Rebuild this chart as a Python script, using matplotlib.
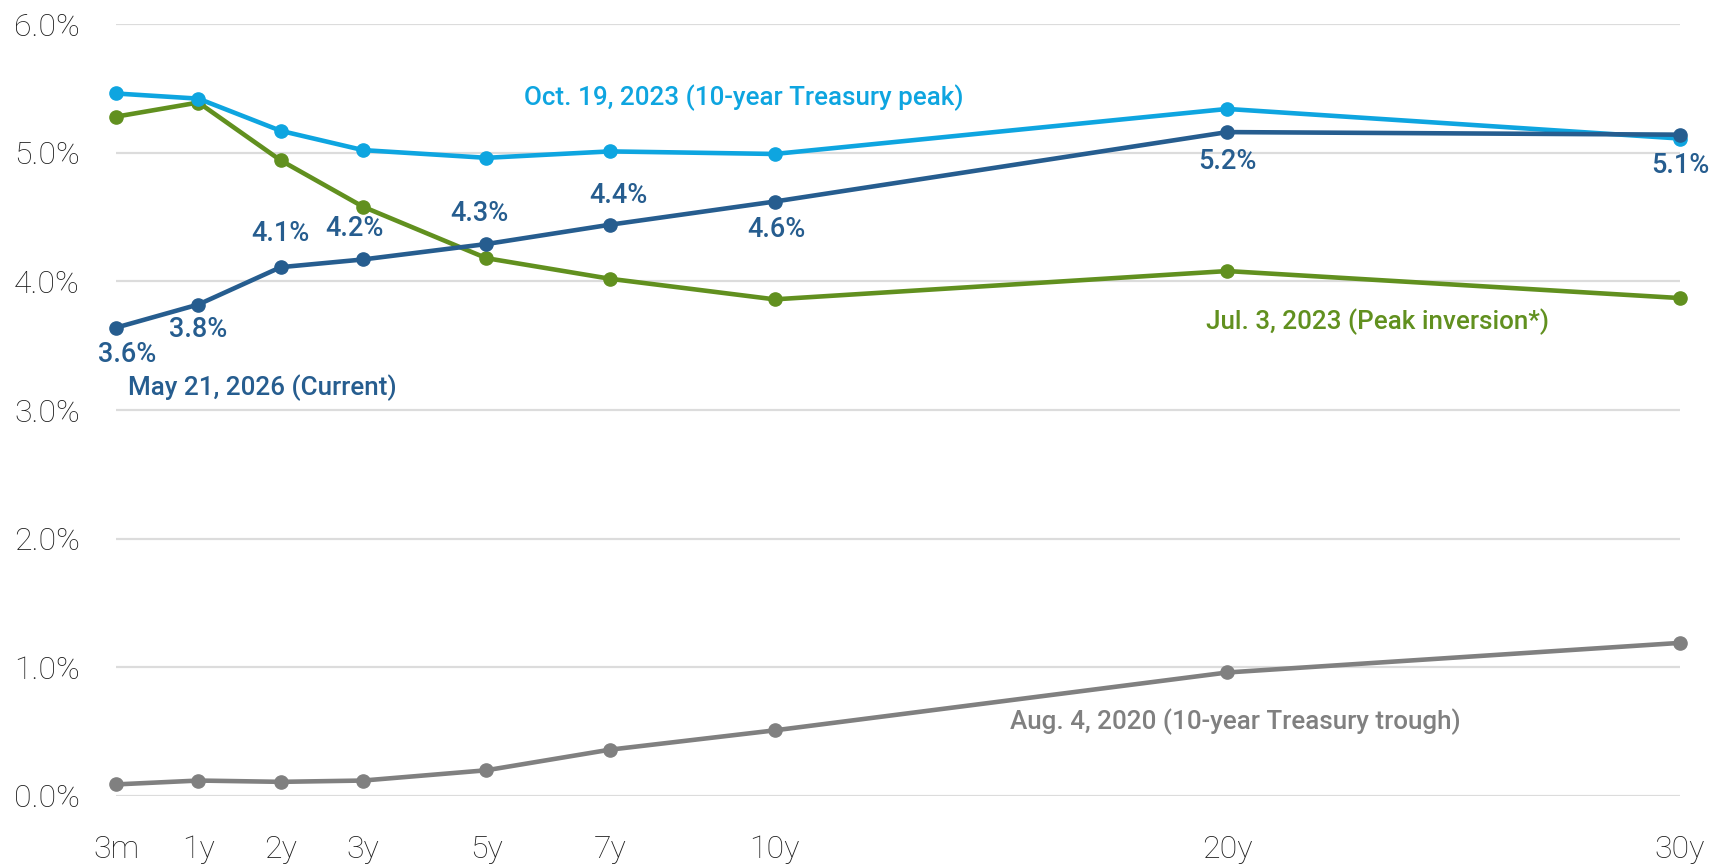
import matplotlib
matplotlib.use("Agg")
import matplotlib.pyplot as plt

# ---- data ----
maturities = ["3m", "1y", "2y", "3y", "5y", "7y", "10y", "20y", "30y"]
x_pos = [0, 2, 4, 6, 9, 12, 16, 27, 38]  # category spacing on the chart's axis

oct_2023 = [5.46, 5.42, 5.17, 5.02, 4.96, 5.01, 4.99, 5.34, 5.11]
jul_2023 = [5.28, 5.39, 4.94, 4.58, 4.18, 4.02, 3.86, 4.08, 3.87]
may_2026 = [3.64, 3.82, 4.11, 4.17, 4.29, 4.44, 4.62, 5.16, 5.14]
aug_2020 = [0.09, 0.12, 0.11, 0.12, 0.20, 0.36, 0.51, 0.96, 1.19]

y_ticks = [0, 1, 2, 3, 4, 5, 6]

C_LIGHT = "#0ea5e0"
C_DARK = "#265d8f"
C_GREEN = "#61901f"
C_GRAY = "#808080"
C_TEXT = "#1e1e1e"

FONT = ["Roboto", "DejaVu Sans"]

fig = plt.figure(figsize=(17.12, 8.67), dpi=100)
ax = fig.add_axes([0.0678, 0.0819, 0.9135, 0.8904])

for yv in y_ticks:
    ax.axhline(yv, color="#dcdcdc", lw=1.6, zorder=0)

lw = 3.3
ms = 9.5
series = [(aug_2020, C_GRAY), (jul_2023, C_GREEN), (oct_2023, C_LIGHT), (may_2026, C_DARK)]
for i, (vals, col) in enumerate(series):
    ax.plot(x_pos, vals, color=col, lw=lw, marker="o", ms=ms, clip_on=False, zorder=2 + i)

ax.set_xlim(x_pos[0], x_pos[-1])
ax.set_ylim(0, 6)
ax.set_xticks(x_pos)
ax.set_xticklabels(maturities)
ax.set_yticks(y_ticks)
ax.set_yticklabels([f"{v:.1f}%" for v in y_ticks])
for s in ax.spines.values():
    s.set_visible(False)
ax.tick_params(axis="both", length=0, labelsize=23, labelcolor=C_TEXT)
ax.tick_params(axis="y", pad=26)
ax.tick_params(axis="x", pad=28)
for lab in ax.get_xticklabels() + ax.get_yticklabels():
    lab.set_family(FONT)
    lab.set_fontweight("light")

# value labels for the current curve (offsets in points)
offsets = [(8, -19), (0, -18), (0, 24), (-6, 22), (-5, 22), (6, 21), (1, -20), (0, -21), (0, -22)]
for xv, yv, (dx, dy) in zip(x_pos, may_2026, offsets):
    ax.annotate(f"{yv:.1f}%", (xv, yv), xytext=(dx, dy), textcoords="offset points",
                ha="center", va="center", fontsize=19.5, fontweight="medium",
                color=C_DARK, family=FONT, zorder=10, annotation_clip=False)

# series labels
LS = 18.7
ax.text(15.25, 5.43, "Oct. 19, 2023 (10-year Treasury peak)", color=C_LIGHT,
        fontsize=LS, fontweight="medium", ha="center", va="center", family=FONT)
ax.text(0.29, 3.17, "May 21, 2026 (Current)", color=C_DARK,
        fontsize=LS, fontweight="medium", ha="left", va="center", family=FONT)
ax.text(30.64, 3.69, "Jul. 3, 2023 (Peak inversion*)", color=C_GREEN,
        fontsize=LS, fontweight="medium", ha="center", va="center", family=FONT)
ax.text(27.2, 0.58, "Aug. 4, 2020 (10-year Treasury trough)", color=C_GRAY,
        fontsize=LS, fontweight="medium", ha="center", va="center", family=FONT)

fig.savefig("out.png", dpi=100)
